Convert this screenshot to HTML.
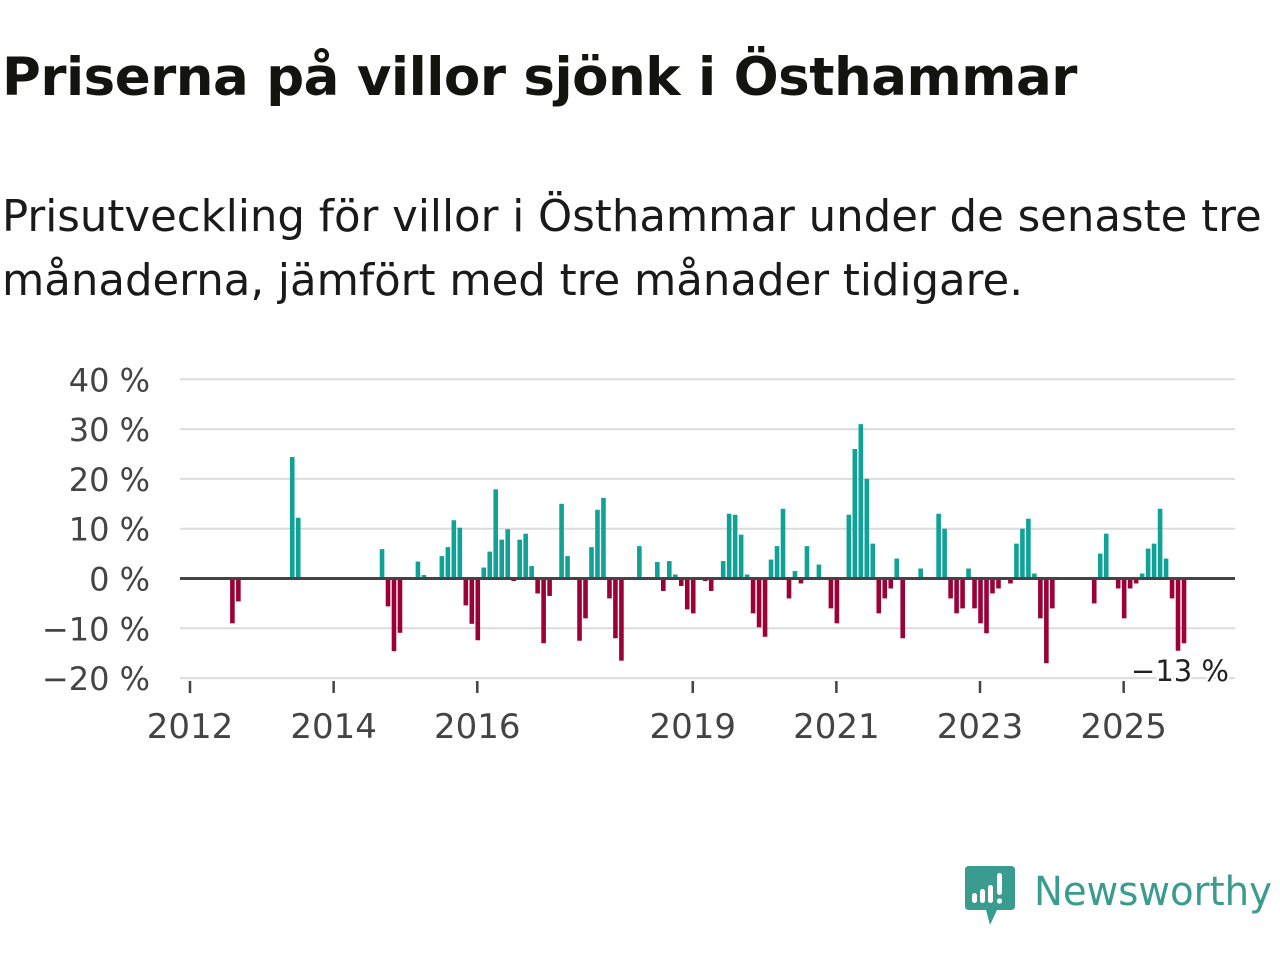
<!DOCTYPE html>
<html><head><meta charset="utf-8">
<style>
body{margin:0;background:#fff;width:1280px;height:960px;overflow:hidden;font-family:"DejaVu Sans","Liberation Sans",sans-serif;color:#111}
#title{position:absolute;left:2px;top:47px;font-size:53px;font-weight:bold;margin:0;white-space:nowrap;color:#131310;letter-spacing:-0.5px}
#sub{position:absolute;left:2px;top:185px;font-size:43.4px;line-height:64px;margin:0;width:1290px;color:#1a1a1a;white-space:nowrap}
svg{position:absolute;left:0;top:0}
</style></head><body>
<h1 id="title">Priserna på villor sjönk i Östhammar</h1>
<p id="sub">Prisutveckling för villor i Östhammar under de senaste tre<br>månaderna, jämfört med tre månader tidigare.</p>
<svg id="chart" width="1280" height="960"></svg>
<script>
const months=["2012-08","2012-09","2013-06","2013-07","2014-09","2014-10","2014-11","2014-12","2015-03","2015-04","2015-07","2015-08","2015-09","2015-10","2015-11","2015-12","2016-01","2016-02","2016-03","2016-04","2016-05","2016-06","2016-07","2016-08","2016-09","2016-10","2016-11","2016-12","2017-01","2017-03","2017-04","2017-06","2017-07","2017-08","2017-09","2017-10","2017-11","2017-12","2018-01","2018-03","2018-04","2018-07","2018-08","2018-09","2018-10","2018-11","2018-12","2019-01","2019-03","2019-04","2019-06","2019-07","2019-08","2019-09","2019-10","2019-11","2019-12","2020-01","2020-02","2020-03","2020-04","2020-05","2020-06","2020-07","2020-08","2020-10","2020-12","2021-01","2021-03","2021-04","2021-05","2021-06","2021-07","2021-08","2021-09","2021-10","2021-11","2021-12","2022-03","2022-06","2022-07","2022-08","2022-09","2022-10","2022-11","2022-12","2023-01","2023-02","2023-03","2023-04","2023-06","2023-07","2023-08","2023-09","2023-10","2023-11","2023-12","2024-01","2024-08","2024-09","2024-10","2024-12","2025-01","2025-02","2025-03","2025-04","2025-05","2025-06","2025-07","2025-08","2025-09","2025-10","2025-11"];
const values=[-9,-4.6,24.4,12.2,5.9,-5.6,-14.6,-10.9,3.4,0.7,4.5,6.3,11.7,10.2,-5.4,-9.1,-12.4,2.2,5.4,17.9,7.8,9.9,-0.5,7.8,9,2.5,-3,-13,-3.5,15,4.5,-12.5,-8,6.3,13.8,16.2,-4,-12,-16.5,-0.3,6.5,3.3,-2.5,3.5,0.8,-1.5,-6.2,-7,-0.5,-2.5,3.5,13,12.8,8.8,0.8,-7,-9.8,-11.7,3.8,6.5,14,-4,1.5,-1,6.5,2.8,-6,-9,12.8,26,31,20,7,-7,-4,-2,4,-12,2,13,10,-4,-7,-6,2,-6,-9,-11,-3,-2,-1,7,10,12,1,-8,-17,-6,-5,5,9,-2,-8,-2,-1,1,6,7,14,4,-4,-14.5,-13];
const yTicks=[40,30,20,10,0,-10,-20];
const yTickLabels=["40 %","30 %","20 %","10 %","0 %","−10 %","−20 %"];
const xTicks=[2012,2014,2016,2019,2021,2023,2025];
const lastLabel="−13 %";

const NS="http://www.w3.org/2000/svg";
const svg=document.getElementById('chart');
function y(v){return 578.5-v*4.98;}
function x(idx){return 190+idx*5.985;}
function mIdx(s){const p=s.split('-');return (+p[0]-2012)*12+(+p[1]-1);}
function mk(t,a){const e=document.createElementNS(NS,t);for(const k in a)e.setAttribute(k,a[k]);svg.appendChild(e);return e;}

yTicks.forEach((v,i)=>{
  const g=mk('line',{x1:180,x2:1235,y1:y(v),y2:y(v),stroke:'#dcdcdc','stroke-width':2});
  
  
  const t=mk('text',{x:150,y:y(v)+12,'text-anchor':'end','font-size':32,fill:'#444'});
  t.textContent=yTickLabels[i];
  
  
});
months.forEach((m,i)=>{
  const v=values[i];const cx=x(mIdx(m))+0.5;
  const top=Math.min(y(v),y(0)),h=Math.abs(y(v)-y(0));
  const r=mk('rect',{x:cx-2.3,y:top,width:4.6,height:Math.max(h,1),fill:v>=0?'#10a197':'#9b0036'});
  
  
});
const z=mk('line',{x1:180,x2:1235,y1:y(0),y2:y(0),stroke:'#444','stroke-width':3});


xTicks.forEach(yr=>{
  const xx=x((yr-2012)*12);
  const l=mk('line',{x1:xx,x2:xx,y1:681,y2:693,stroke:'#444','stroke-width':2.5});
  
  
  const t=mk('text',{x:xx,y:738,'text-anchor':'middle','font-size':34,fill:'#444'});
  t.textContent=yr;
  
  
});
const ll=mk('text',{x:1229,y:681,'text-anchor':'end','font-size':29,fill:'#222',stroke:'#fff','stroke-width':4,'paint-order':'stroke'});
ll.textContent=lastLabel;


</script>
<svg width="1280" height="960" style="pointer-events:none">
  <path d="M969 866 H1011 Q1015 866 1015 870 V906 Q1015 910 1011 910 H997 L990 925 L986 910 H969 Q965 910 965 906 V870 Q965 866 969 866 Z" fill="#3a9b8f"/>
  <rect x="972" y="893" width="5" height="10" rx="2.5" fill="#fff"/>
  <rect x="980" y="889" width="5" height="14" rx="2.5" fill="#fff"/>
  <rect x="988" y="885" width="5" height="18" rx="2.5" fill="#fff"/>
  <rect x="997" y="873" width="5" height="22" rx="2.5" fill="#fff"/>
  <circle cx="999.5" cy="901" r="2.6" fill="#fff"/>
  <text x="1034" y="905" font-size="40" fill="#3a9b8f" font-family="DejaVu Sans, sans-serif" textLength="238" lengthAdjust="spacingAndGlyphs">Newsworthy</text>
</svg>
</body></html>
